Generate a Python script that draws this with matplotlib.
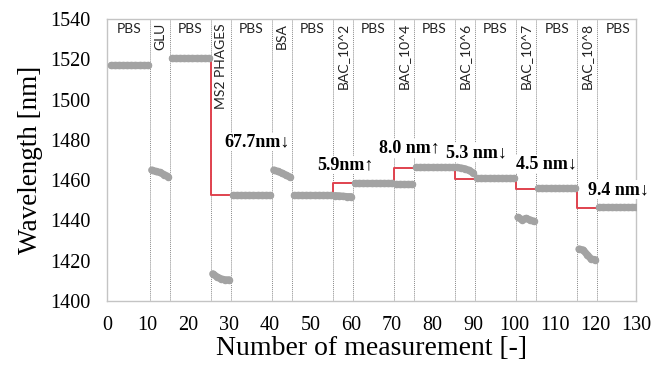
import matplotlib
matplotlib.use("Agg")
import matplotlib.pyplot as plt
import numpy as np

# ---- data ----
phase_names = ["PBS", "GLU", "PBS", "MS2 PHAGES", "PBS", "BSA", "PBS", "BAC_10^2",
               "PBS", "BAC_10^4", "PBS", "BAC_10^6", "PBS", "BAC_10^7", "PBS", "BAC_10^8", "PBS"]
phase_values = [
    [1517.2, 1517.2, 1517.2, 1517.2, 1517.2, 1517.2, 1517.2, 1517.2, 1517.2, 1517.2],
    [1465.0, 1464.3, 1463.8, 1462.8, 1461.8],
    [1520.5, 1520.5, 1520.5, 1520.5, 1520.5, 1520.5, 1520.5, 1520.5, 1520.5, 1520.5],
    [1413.5, 1412.0, 1411.0, 1410.5, 1410.5],
    [1452.5, 1452.5, 1452.5, 1452.5, 1452.5, 1452.5, 1452.5, 1452.5, 1452.5, 1452.5],
    [1465.0, 1464.3, 1463.5, 1462.5, 1461.5],
    [1452.5, 1452.5, 1452.5, 1452.5, 1452.5, 1452.5, 1452.5, 1452.5, 1452.5, 1452.5],
    [1452.3, 1452.2, 1452.0, 1451.8, 1451.8],
    [1458.4, 1458.4, 1458.4, 1458.4, 1458.4, 1458.4, 1458.4, 1458.4, 1458.4, 1458.4],
    [1458.2, 1458.2, 1458.2, 1458.2, 1458.2],
    [1466.5, 1466.5, 1466.5, 1466.5, 1466.5, 1466.5, 1466.5, 1466.5, 1466.5, 1466.5],
    [1466.3, 1466.0, 1465.6, 1464.8, 1463.6],
    [1461.0, 1461.0, 1461.0, 1461.0, 1461.0, 1461.0, 1461.0, 1461.0, 1461.0, 1461.0],
    [1441.5, 1440.3, 1441.0, 1440.2, 1439.5],
    [1456.3, 1456.3, 1456.3, 1456.3, 1456.3, 1456.3, 1456.3, 1456.3, 1456.3, 1456.3],
    [1425.8, 1425.3, 1423.0, 1420.8, 1420.5],
    [1446.8, 1446.8, 1446.8, 1446.8, 1446.8, 1446.8, 1446.8, 1446.8, 1446.8, 1446.8],
]

# red step lines: x of step, level before, level after, x end
step_x = [25.5, 55.5, 70.5, 85.5, 100.5, 115.5]
step_from = [1520.5, 1452.3, 1458.2, 1466.5, 1461.0, 1456.3]
step_to = [1452.5, 1458.4, 1466.2, 1460.4, 1455.6, 1446.4]
step_end = [30.5, 60.5, 75.5, 90.5, 105.5, 120.5]

shift_labels = ["67.7nm\u2193", "5.9nm\u2191", "8.0 nm\u2191", "5.3 nm\u2193", "4.5 nm\u2193", "9.4 nm\u2193"]
shift_x = [37.0, 58.5, 74.4, 90.8, 107.9, 125.7]
shift_y = [1479.0, 1467.5, 1475.8, 1473.7, 1468.0, 1455.4]

x_ticks = list(range(0, 131, 10))
y_ticks = list(range(1400, 1541, 20))

# ---- figure ----
fig = plt.figure(figsize=(6.51, 3.65), dpi=100)
ax = fig.add_axes([107/651, 1 - 301/365, (636-107)/651, (301-19)/365])

serif = ["Liberation Serif", "DejaVu Serif"]
sans = ["Lato", "DejaVu Sans"]

gray = "#a3a3a3"
start = 1
boundaries = []
for name, vals in zip(phase_names, phase_values):
    xs = np.arange(start, start + len(vals))
    ax.plot(xs, vals, "o", color=gray, markersize=5.4, markeredgewidth=0, zorder=3)
    ax.plot(xs, vals, "-", color=gray, linewidth=5.2, solid_capstyle="round", zorder=3)
    lo = start - 0.5
    hi = start + len(vals) - 0.5
    center = (max(lo, 0) + hi) / 2
    if name == "PBS":
        ax.text(center, 1538, name, ha="center", va="top", fontsize=10,
                family=sans, color="#222222", zorder=5)
    else:
        ax.text(center, 1538, name, ha="center", va="top", rotation=90,
                fontsize=10, family=sans, color="#222222", zorder=5)
    if hi < 130:
        boundaries.append(hi)
    start += len(vals)

for b in boundaries:
    ax.axvline(b, color="#8a8a8a", linestyle=(0, (1, 1)), linewidth=0.7, zorder=1)

for sx, f, t, e in zip(step_x, step_from, step_to, step_end):
    ax.plot([sx, sx, e], [f, t, t], color="#e0424e", linewidth=1.4, zorder=2)

for lab, tx, ty in zip(shift_labels, shift_x, shift_y):
    ax.text(tx, ty, lab, ha="center", va="center", fontsize=13, fontweight="bold",
            family=serif, zorder=4,
            bbox=dict(facecolor="white", edgecolor="none", pad=0.5))

ax.set_xlim(0, 130)
ax.set_ylim(1400, 1540)
ax.set_xticks(x_ticks)
ax.set_yticks(y_ticks)
ax.tick_params(length=0, labelsize=14.5)
for lbl in ax.get_xticklabels() + ax.get_yticklabels():
    lbl.set_family(serif)
ax.tick_params(axis="x", pad=11)
ax.tick_params(axis="y", pad=12)
for s in ax.spines.values():
    s.set_color("#c4c4c4")
    s.set_linewidth(1.0)

ax.set_xlabel("Number of measurement [-]", fontsize=20, family=serif, labelpad=0.5)
ax.set_ylabel("Wavelength [nm]", fontsize=19.5, family=serif, labelpad=5)

fig.savefig("out.png", dpi=100)
